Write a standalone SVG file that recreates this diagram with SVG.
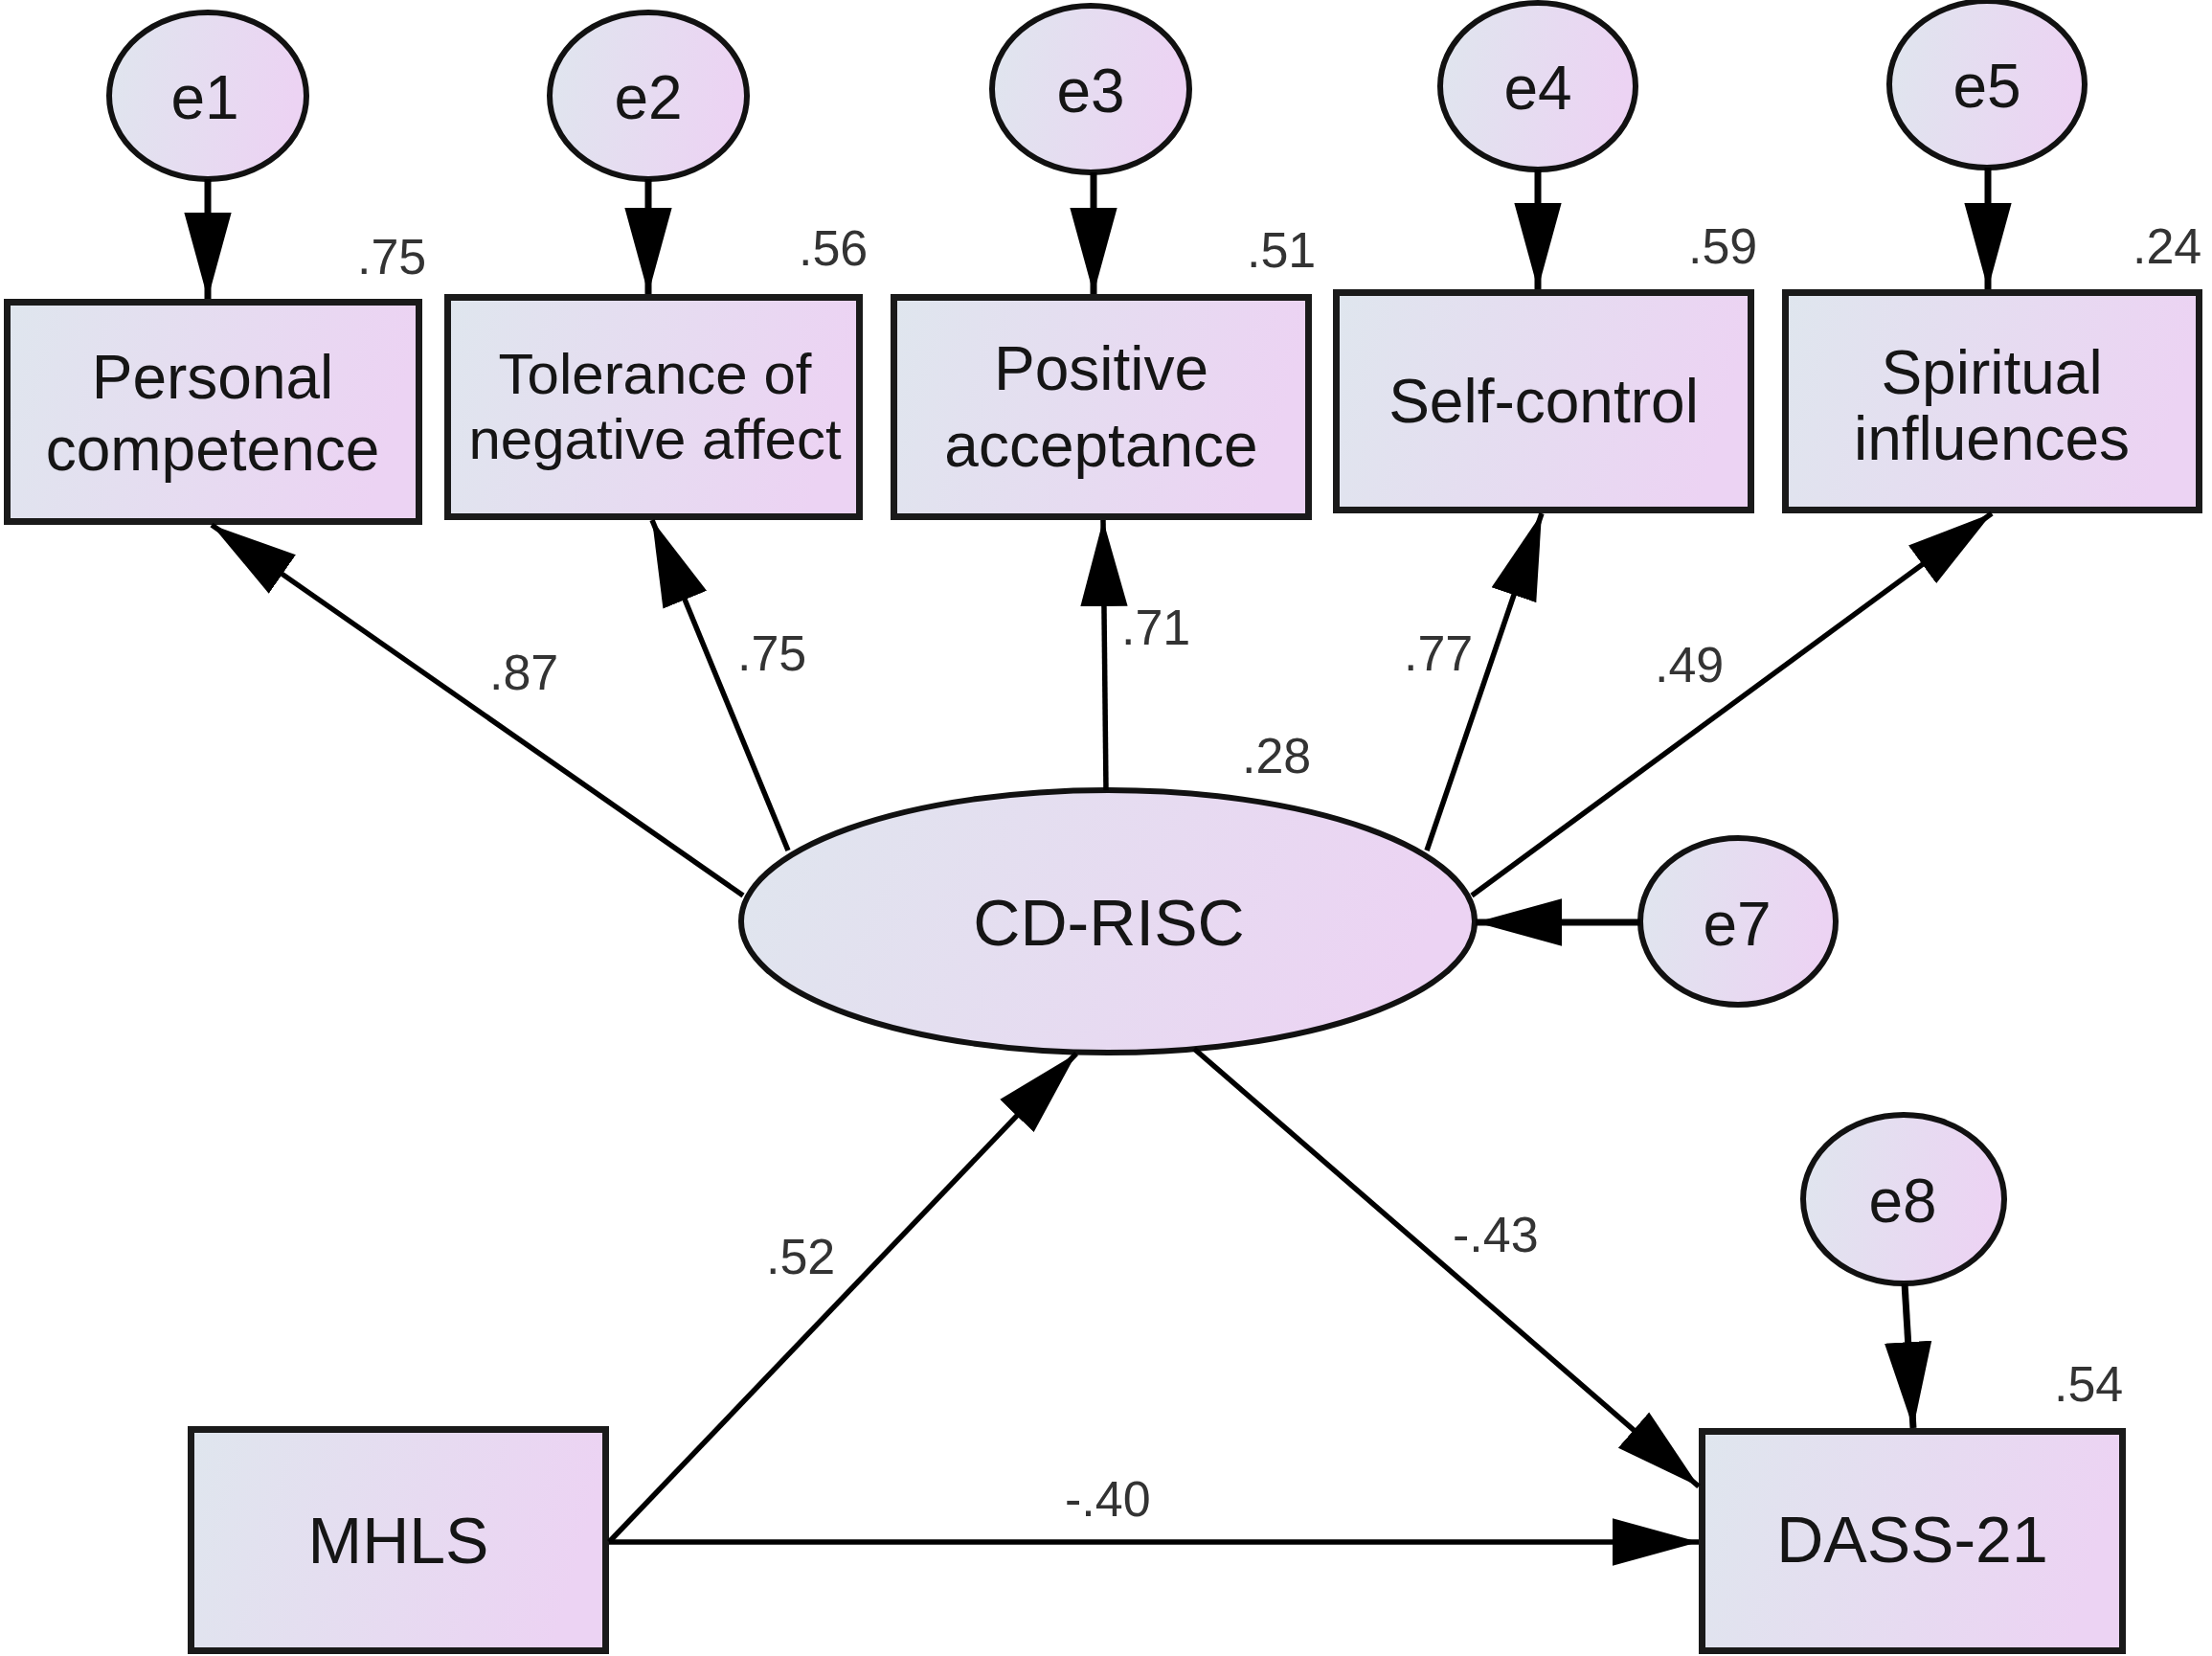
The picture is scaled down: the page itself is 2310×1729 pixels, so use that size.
<svg xmlns="http://www.w3.org/2000/svg" width="2310" height="1729" viewBox="0 0 2310 1729">
<defs>
<linearGradient id="g" x1="0" y1="0" x2="1" y2="0.15">
<stop offset="0" stop-color="#dfe6ee"/>
<stop offset="1" stop-color="#ecd3f3"/>
</linearGradient>
<marker id="ah" markerUnits="userSpaceOnUse" markerWidth="90" markerHeight="50" viewBox="0 0 84 46" refX="84" refY="23" orient="auto">
<path d="M0,0 L84,23 L0,46 Z" fill="#000"/>
</marker>
<style>
.box{fill:url(#g);stroke:#1a1a1a;stroke-width:7}
.ell{fill:url(#g);stroke:#111;stroke-width:6}
.lbl{font-family:"Liberation Sans",Arial,sans-serif;font-size:64px;fill:#151515;text-anchor:middle}
.big{font-size:68px}
.num{font-family:"Liberation Sans",Arial,sans-serif;font-size:52px;fill:#333}
.c{stroke:#000;stroke-width:5.5;fill:none;marker-end:url(#ah)}
.ce{stroke:#000;stroke-width:7;fill:none;marker-end:url(#ah)}
</style>
</defs>
<rect width="2310" height="1729" fill="#fff"/>

<g id="e1"><ellipse class="ell" cx="217" cy="100" rx="103" ry="87"/><text class="lbl" x="214" y="124">e1</text></g>
<g id="e2"><ellipse class="ell" cx="677" cy="100" rx="103" ry="87"/><text class="lbl" x="677" y="124">e2</text></g>
<g id="e3"><ellipse class="ell" cx="1139" cy="93" rx="103" ry="87"/><text class="lbl" x="1139" y="117">e3</text></g>
<g id="e4"><ellipse class="ell" cx="1606" cy="90" rx="102" ry="87"/><text class="lbl" x="1606" y="114">e4</text></g>
<g id="e5"><ellipse class="ell" cx="2075" cy="88" rx="102" ry="87"/><text class="lbl" x="2075" y="112">e5</text></g>

<g id="personal-competence"><rect class="box" x="7.5" y="315.5" width="430" height="229"/>
<text class="lbl" x="222" y="416">Personal</text><text class="lbl" x="222" y="491">competence</text>
<text class="num" x="373" y="286">.75</text></g>
<g id="tolerance"><rect class="box" x="467.5" y="310.5" width="430" height="229"/>
<text class="lbl" style="font-size:60px" x="684" y="411">Tolerance of</text><text class="lbl" style="font-size:60px" x="684" y="479">negative affect</text>
<text class="num" x="834" y="277">.56</text></g>
<g id="positive-acceptance"><rect class="box" x="933.5" y="310.5" width="433" height="229"/>
<text class="lbl" x="1150" y="407">Positive</text><text class="lbl" x="1150" y="487">acceptance</text>
<text class="num" x="1302" y="279">.51</text></g>
<g id="self-control"><rect class="box" x="1395.5" y="305.5" width="433" height="227"/>
<text class="lbl" x="1612" y="441">Self-control</text>
<text class="num" x="1763" y="275">.59</text></g>
<g id="spiritual-influences"><rect class="box" x="1864.5" y="305.5" width="432" height="227"/>
<text class="lbl" x="2080" y="411">Spiritual</text><text class="lbl" x="2080" y="480">influences</text>
<text class="num" x="2227" y="275">.24</text></g>

<g id="cd-risc"><ellipse class="ell" cx="1157" cy="962" rx="383" ry="137"/>
<text class="lbl big" x="1158" y="987">CD-RISC</text>
<text class="num" x="1297" y="807">.28</text></g>
<g id="e7"><ellipse class="ell" cx="1815" cy="962" rx="102" ry="87"/><text class="lbl" x="1814" y="987">e7</text></g>
<g id="mhls"><rect class="box" x="199.5" y="1492.5" width="433" height="231"/>
<text class="lbl big" x="416" y="1632">MHLS</text></g>
<g id="e8"><ellipse class="ell" cx="1988" cy="1252" rx="105" ry="88"/><text class="lbl" x="1987" y="1276">e8</text></g>
<g id="dass-21"><rect class="box" x="1777.5" y="1494.5" width="439" height="229"/>
<text class="lbl big" x="1997" y="1631">DASS-21</text>
<text class="num" x="2145" y="1463">.54</text></g>

<g id="connectors">
<line class="ce" x1="217" y1="187" x2="217" y2="312"/>
<line class="ce" x1="677" y1="187" x2="677" y2="307"/>
<line class="ce" x1="1142" y1="180" x2="1142" y2="307"/>
<line class="ce" x1="1606" y1="177" x2="1606" y2="302"/>
<line class="ce" x1="2076" y1="175" x2="2076" y2="302"/>
<line class="c" x1="776" y1="935" x2="221" y2="548"/>
<line class="c" x1="823" y1="888" x2="681" y2="543"/>
<line class="c" x1="1155" y1="825" x2="1152" y2="543"/>
<line class="c" x1="1490" y1="888" x2="1610" y2="536"/>
<line class="c" x1="1537" y1="935" x2="2080" y2="536"/>
<line class="ce" x1="1713" y1="963" x2="1541" y2="963"/>
<line class="c" x1="636" y1="1610" x2="1124" y2="1100"/>
<line class="c" x1="1247" y1="1095" x2="1774" y2="1552"/>
<line class="c" x1="636" y1="1610" x2="1774" y2="1610"/>
<line class="ce" x1="1989" y1="1340" x2="1998" y2="1491"/>
</g>

<g id="path-labels">
<text class="num" x="511" y="720">.87</text>
<text class="num" x="770" y="700">.75</text>
<text class="num" x="1171" y="673">.71</text>
<text class="num" x="1466" y="700">.77</text>
<text class="num" x="1728" y="712">.49</text>
<text class="num" x="800" y="1330">.52</text>
<text class="num" x="1517" y="1307">-.43</text>
<text class="num" x="1112" y="1583">-.40</text>
</g>
</svg>
